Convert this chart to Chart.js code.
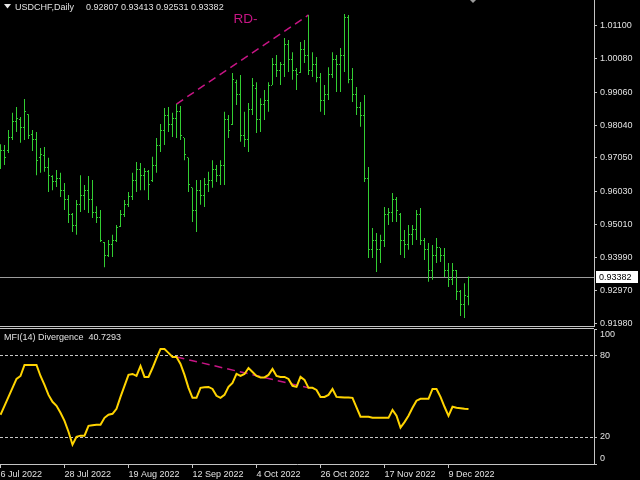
<!DOCTYPE html>
<html>
<head>
<meta charset="utf-8">
<script src="https://cdn.jsdelivr.net/npm/chart.js@4.4.1/dist/chart.umd.min.js"></script>
<style>
  html, body { margin: 0; padding: 0; background: #000; width: 640px; height: 480px; overflow: hidden; }
  canvas { position: absolute; left: 0; }
  #priceChart { top: 0; }
  #mfiChart { top: 320px; }
</style>
</head>
<body>
<canvas id="priceChart" width="640" height="332"></canvas>
<canvas id="mfiChart" width="640" height="160"></canvas>
<script>
// USDCHF daily bars, 6 Jul 2022 .. 16 Dec 2022 (one entry per bar)
const highs = [
  0.9747, 0.9744, 0.9790, 0.9843, 0.9861, 0.9830, 0.9885, 0.9839, 0.9790, 0.9784,
  0.9735, 0.9738, 0.9705, 0.9652, 0.9668, 0.9659, 0.9628, 0.9591, 0.9536, 0.9576,
  0.9652, 0.9622, 0.9649, 0.9637, 0.9557, 0.9545, 0.9447, 0.9453, 0.9469, 0.9499,
  0.9545, 0.9576, 0.9600, 0.9659, 0.9692, 0.9689, 0.9674, 0.9668, 0.9708, 0.9766,
  0.9809, 0.9858, 0.9861, 0.9843, 0.9870, 0.9864, 0.9766, 0.9705, 0.9613, 0.9637,
  0.9637, 0.9643, 0.9662, 0.9698, 0.9683, 0.9698, 0.9846, 0.9836, 0.9965, 0.9944,
  0.9959, 0.9846, 0.9873, 0.9950, 0.9937, 0.9888, 0.9913, 0.9937, 1.0011, 1.0020,
  0.9999, 1.0072, 1.0066, 1.0029, 0.9980, 1.0060, 1.0066, 1.0143, 1.0029, 1.0014,
  0.9965, 0.9928, 0.9983, 1.0029, 1.0020, 1.0042, 1.0146, 1.0143, 0.9980, 0.9922,
  0.9876, 0.9898, 0.9677, 0.9490, 0.9475, 0.9469, 0.9554, 0.9551, 0.9597, 0.9585,
  0.9536, 0.9484, 0.9499, 0.9499, 0.9545, 0.9551, 0.9459, 0.9444, 0.9438, 0.9459,
  0.9429, 0.9429, 0.9383, 0.9383, 0.9361, 0.9300, 0.9321, 0.93413
];
const lows = [
  0.9671, 0.9683, 0.9720, 0.9760, 0.9784, 0.9751, 0.9760, 0.9763, 0.9726, 0.9652,
  0.9659, 0.9662, 0.9600, 0.9606, 0.9616, 0.9585, 0.9545, 0.9505, 0.9478, 0.9469,
  0.9539, 0.9545, 0.9536, 0.9521, 0.9505, 0.9447, 0.9370, 0.9401, 0.9401, 0.9447,
  0.9493, 0.9524, 0.9554, 0.9576, 0.9600, 0.9606, 0.9606, 0.9576, 0.9631, 0.9659,
  0.9723, 0.9744, 0.9784, 0.9769, 0.9766, 0.9760, 0.9698, 0.9600, 0.9508, 0.9478,
  0.9561, 0.9554, 0.9600, 0.9613, 0.9631, 0.9622, 0.9622, 0.9766, 0.9806, 0.9867,
  0.9754, 0.9738, 0.9723, 0.9836, 0.9781, 0.9784, 0.9821, 0.9846, 0.9928, 0.9953,
  0.9928, 0.9953, 0.9968, 0.9944, 0.9913, 0.9965, 0.9996, 0.9959, 0.9953, 0.9937,
  0.9846, 0.9836, 0.9882, 0.9950, 0.9907, 0.9907, 0.9968, 0.9934, 0.9876, 0.9836,
  0.9800, 0.9631, 0.9398, 0.9398, 0.9355, 0.9383, 0.9432, 0.9499, 0.9508, 0.9508,
  0.9407, 0.9398, 0.9423, 0.9438, 0.9453, 0.9438, 0.9392, 0.9325, 0.9331, 0.9383,
  0.9386, 0.9340, 0.9309, 0.9315, 0.9269, 0.9220, 0.9214, 0.92531
];
const opens = [
  0.9683, 0.9729, 0.9729, 0.9766, 0.9815, 0.9821, 0.9797, 0.9839, 0.9778, 0.9760,
  0.9705, 0.9711, 0.9674, 0.9649, 0.9631, 0.9643, 0.9606, 0.9576, 0.9530, 0.9499,
  0.9561, 0.9591, 0.9606, 0.9576, 0.9539, 0.9521, 0.9447, 0.9407, 0.9438, 0.9453,
  0.9496, 0.9530, 0.9561, 0.9588, 0.9637, 0.9668, 0.9652, 0.9662, 0.9635, 0.9683,
  0.9744, 0.9790, 0.9836, 0.9806, 0.9827, 0.9846, 0.9766, 0.9705, 0.9613, 0.9545,
  0.9606, 0.9591, 0.9622, 0.9637, 0.9668, 0.9652, 0.9683, 0.9821, 0.9806, 0.9937,
  0.9898, 0.9775, 0.9760, 0.9852, 0.9919, 0.9821, 0.9867, 0.9882, 0.9928, 0.9990,
  0.9974, 0.9990, 1.0051, 1.0005, 0.9974, 0.9968, 1.0036, 1.0020, 0.9974, 0.9990,
  0.9950, 0.9882, 0.9898, 0.9959, 1.0005, 0.9990, 1.0020, 1.0134, 0.9944, 0.9898,
  0.9858, 0.9836, 0.9643, 0.9423, 0.9453, 0.9423, 0.9453, 0.9530, 0.9539, 0.9576,
  0.9530, 0.9453, 0.9438, 0.9469, 0.9484, 0.9530, 0.9453, 0.9423, 0.9361, 0.9407,
  0.9429, 0.9407, 0.9361, 0.9331, 0.9361, 0.9294, 0.9254, 0.92807
];
const closes = [
  0.9729, 0.9705, 0.9766, 0.9815, 0.9827, 0.9797, 0.9846, 0.9775, 0.9760, 0.9698,
  0.9714, 0.9674, 0.9652, 0.9631, 0.9643, 0.9606, 0.9576, 0.9530, 0.9499, 0.9561,
  0.9591, 0.9606, 0.9576, 0.9539, 0.9521, 0.9453, 0.9407, 0.9438, 0.9453, 0.9490,
  0.9530, 0.9561, 0.9588, 0.9637, 0.9668, 0.9652, 0.9662, 0.9622, 0.9683, 0.9744,
  0.9790, 0.9836, 0.9806, 0.9827, 0.9846, 0.9775, 0.9714, 0.9622, 0.9545, 0.9606,
  0.9591, 0.9622, 0.9637, 0.9668, 0.9652, 0.9683, 0.9821, 0.9790, 0.9944, 0.9898,
  0.9775, 0.9760, 0.9852, 0.9928, 0.9821, 0.9867, 0.9882, 0.9928, 0.9990, 0.9974,
  0.9990, 1.0051, 1.0005, 0.9974, 0.9959, 1.0036, 1.0020, 0.9974, 0.9990, 0.9950,
  0.9882, 0.9898, 0.9959, 1.0005, 0.9990, 1.0020, 1.0134, 0.9944, 0.9898, 0.9858,
  0.9836, 0.9643, 0.9423, 0.9453, 0.9423, 0.9453, 0.9530, 0.9539, 0.9576, 0.9545,
  0.9453, 0.9438, 0.9469, 0.9484, 0.9530, 0.9453, 0.9423, 0.9361, 0.9407, 0.9429,
  0.9407, 0.9361, 0.9331, 0.9361, 0.9294, 0.9254, 0.9282, 0.93382
];
// MFI(14) per bar
const mfi = [
  36.5, 43.1, 49.7, 56.4, 63.0, 65.2, 73.4, 73.4, 73.4, 73.4,
  65.2, 58.6, 51.2, 46.1, 43.1, 38.0, 32.0, 23.9, 14.3, 20.2,
  21.0, 21.0, 28.3, 28.7, 29.1, 29.1, 34.2, 36.5, 37.2, 40.9,
  49.7, 57.9, 66.0, 66.7, 65.2, 72.6, 64.5, 64.5, 71.1, 78.5,
  85.2, 85.2, 82.3, 79.3, 79.3, 74.1, 66.0, 56.4, 49.0, 49.0,
  56.4, 56.8, 57.1, 55.6, 50.5, 49.0, 51.2, 57.1, 60.1, 66.7,
  65.2, 66.7, 71.1, 68.2, 65.2, 64.1, 64.1, 66.0, 70.4, 65.2,
  64.5, 64.5, 63.0, 57.9, 57.1, 64.5, 62.3, 56.4, 56.4, 54.9,
  49.7, 49.7, 51.2, 55.6, 49.7, 49.5, 49.3, 49.2, 49.0, 42.0,
  35.0, 35.0, 35.0, 34.2, 34.2, 34.2, 34.2, 34.2, 40.1, 35.7,
  26.9, 31.0, 35.7, 41.6, 46.9, 48.3, 48.3, 48.3, 55.6, 55.6,
  49.7, 42.4, 35.7, 42.4, 41.6, 41.3, 40.9, 40.7293
];

const dateLabels = ['6 Jul 2022', '28 Jul 2022', '19 Aug 2022', '12 Sep 2022', '4 Oct 2022', '26 Oct 2022', '17 Nov 2022', '9 Dec 2022'];
const dateBars = [0, 16, 32, 48, 64, 80, 96, 112];
const priceTicks = [1.011, 1.0008, 0.9906, 0.9804, 0.9705, 0.9603, 0.9501, 0.9399, 0.9297, 0.9198];
const mfiTicks = [0, 20, 80, 100];
const mfiLevels = [20, 80];
const rdBars = [44, 77];   // bearish divergence: price higher high, MFI lower high

const symbol = 'USDCHF,Daily';
const mfiName = 'MFI(14) Divergence';

const FONT = 'Liberation Sans';
const FSIZE = 9;
const axisColor = '#c4c4c4';
const textColor = '#e0e0e0';
const barColor = '#32cd32';
const mfiColor = '#ffd400';
const rdColor = '#c71585';
const xMin = -0.125, xMax = 148.375;   // 4px per bar, room on the right

const last = closes.length - 1;
const idx = closes.map((_, i) => i);

// open / close nubs on the OHLC bars
const ohlcTicks = {
  id: 'ohlcTicks',
  afterDatasetsDraw(chart) {
    const { ctx, scales: { x, y } } = chart;
    ctx.save();
    ctx.fillStyle = barColor;
    idx.forEach(i => {
      const px = Math.round(x.getPixelForValue(i) - 0.5);
      ctx.fillRect(px - 1, Math.floor(y.getPixelForValue(opens[i])), 1, 1);
      ctx.fillRect(px + 1, Math.floor(y.getPixelForValue(closes[i])), 1, 1);
    });
    ctx.restore();
  }
};

const priceDecor = {
  id: 'priceDecor',
  beforeDatasetsDraw(chart) {
    const { ctx, chartArea: a, scales: { y } } = chart;
    const py = Math.floor(y.getPixelForValue(closes[last])) + 0.5;
    ctx.save();
    ctx.strokeStyle = '#9c9c9c';
    ctx.lineWidth = 1;
    ctx.beginPath();
    ctx.moveTo(a.left, py);
    ctx.lineTo(a.right, py);
    ctx.stroke();
    ctx.restore();
  },
  afterDraw(chart) {
    const { ctx, chartArea: a, scales: { x, y } } = chart;
    ctx.save();
    // window bottom edge
    ctx.strokeStyle = axisColor;
    ctx.lineWidth = 1;
    ctx.beginPath();
    ctx.moveTo(0, a.bottom + 0.5);
    ctx.lineTo(a.right, a.bottom + 0.5);
    ctx.stroke();

    // header
    ctx.fillStyle = '#e8e8e8';
    ctx.beginPath();
    ctx.moveTo(4, 4); ctx.lineTo(11, 4); ctx.lineTo(7.5, 8.5); ctx.closePath();
    ctx.fill();
    ctx.font = FSIZE + 'px "' + FONT + '"';
    ctx.fillStyle = textColor;
    ctx.textBaseline = 'alphabetic';
    ctx.textAlign = 'left';
    ctx.fillText(symbol, 15, 10);
    const ohlc = [opens[last], highs[last], lows[last], closes[last]].map(v => v.toFixed(5)).join(' ');
    ctx.fillText(ohlc, 86, 10);

    // divergence label
    ctx.font = '13.5px "Liberation Sans"';
    ctx.fillStyle = rdColor;
    ctx.fillText('RD-', x.getPixelForValue(rdBars[1]) - 75, y.getPixelForValue(highs[rdBars[1]]) + 8);

    // bid price box
    const py = Math.floor(y.getPixelForValue(closes[last]));
    ctx.fillStyle = '#ffffff';
    ctx.fillRect(a.right + 2, py - 6, 42, 12);
    ctx.fillStyle = '#000000';
    ctx.font = FSIZE + 'px "' + FONT + '"';
    ctx.textBaseline = 'middle';
    ctx.fillText(closes[last].toFixed(5), a.right + 5, py + 0.5);

    // chart shift marker
    ctx.fillStyle = '#9c9c9c';
    ctx.beginPath();
    ctx.moveTo(470, 0); ctx.lineTo(476, 0); ctx.lineTo(473, 3); ctx.closePath();
    ctx.fill();
    ctx.restore();
  }
};

new Chart(document.getElementById('priceChart'), {
  type: 'bar',
  data: {
    datasets: [
      {
        type: 'bar',
        data: idx.map(i => ({ x: i, y: [lows[i], highs[i]] })),
        backgroundColor: barColor,
        borderWidth: 0,
        barThickness: 1,
        inflateAmount: 0
      },
      {
        type: 'line',
        data: rdBars.map(i => ({ x: i, y: highs[i] })),
        borderColor: rdColor,
        borderWidth: 1.5,
        borderDash: [8, 5],
        pointRadius: 0
      }
    ]
  },
  options: {
    responsive: false,
    animation: false,
    devicePixelRatio: 1,
    events: [],
    layout: { padding: { top: 0, bottom: 6, left: 0, right: 0 } },
    plugins: { legend: { display: false }, tooltip: { enabled: false } },
    scales: {
      x: { type: 'linear', display: false, offset: false, min: xMin, max: xMax },
      y: {
        position: 'right',
        min: 0.91896,
        max: 1.01888,
        afterBuildTicks: s => { s.ticks = priceTicks.map(v => ({ value: v })); },
        afterFit: s => { s.width = 46; s.paddingTop = 0; s.paddingBottom = 0; },
        ticks: {
          autoSkip: false,
          padding: 3,
          color: textColor,
          font: { family: FONT, size: FSIZE },
          callback: v => Number(v).toFixed(5)
        },
        grid: { drawOnChartArea: false, tickLength: 3, color: axisColor },
        border: { display: true, color: axisColor }
      }
    }
  },
  plugins: [priceDecor, ohlcTicks]
});

const mfiDecor = {
  id: 'mfiDecor',
  beforeDatasetsDraw(chart) {
    const { ctx, chartArea: a, scales: { y } } = chart;
    ctx.save();
    ctx.strokeStyle = '#c8c8c8';
    ctx.lineWidth = 1;
    ctx.setLineDash([3, 2]);
    mfiLevels.forEach(v => {
      const py = Math.floor(y.getPixelForValue(v)) + 0.5;
      ctx.beginPath();
      ctx.moveTo(a.left, py);
      ctx.lineTo(a.right, py);
      ctx.stroke();
    });
    ctx.restore();
  },
  afterDraw(chart) {
    const { ctx, chartArea: a } = chart;
    ctx.save();
    ctx.strokeStyle = axisColor;
    ctx.lineWidth = 1;
    ctx.beginPath();
    ctx.moveTo(0, a.top - 0.5);
    ctx.lineTo(a.right, a.top - 0.5);
    ctx.stroke();
    ctx.font = FSIZE + 'px "' + FONT + '"';
    ctx.fillStyle = textColor;
    ctx.textBaseline = 'alphabetic';
    ctx.fillText(mfiName + '  ' + mfi[last].toFixed(4), 4, 20);
    ctx.restore();
  }
};

new Chart(document.getElementById('mfiChart'), {
  type: 'line',
  data: {
    datasets: [
      {
        data: idx.map(i => ({ x: i, y: mfi[i] })),
        borderColor: mfiColor,
        borderWidth: 2,
        pointRadius: 0,
        tension: 0
      },
      {
        data: rdBars.map(i => ({ x: i, y: mfi[i] })),
        borderColor: rdColor,
        borderWidth: 1.5,
        borderDash: [8, 5],
        pointRadius: 0
      }
    ]
  },
  options: {
    responsive: false,
    animation: false,
    devicePixelRatio: 1,
    events: [],
    layout: { padding: { top: 9, bottom: 0, left: 0, right: 0 } },
    plugins: { legend: { display: false }, tooltip: { enabled: false } },
    scales: {
      x: {
        type: 'linear',
        offset: false,
        min: xMin,
        max: xMax,
        afterBuildTicks: s => { s.ticks = dateBars.map(v => ({ value: v })); },
        afterFit: s => { s.height = 16; s.paddingLeft = 0; s.paddingRight = 0; },
        ticks: {
          autoSkip: false,
          maxRotation: 0,
          align: 'start',
          padding: 1,
          color: textColor,
          font: { family: FONT, size: FSIZE },
          callback: (v, i) => dateLabels[i]
        },
        grid: { drawOnChartArea: false, tickLength: 4, color: axisColor },
        border: { display: true, color: axisColor }
      },
      y: {
        position: 'right',
        min: 0,
        max: 100,
        afterBuildTicks: s => { s.ticks = mfiTicks.map(v => ({ value: v })); },
        afterFit: s => { s.width = 46; s.paddingTop = 0; s.paddingBottom = 0; },
        ticks: {
          autoSkip: false,
          padding: 3,
          color: textColor,
          font: { family: FONT, size: FSIZE },
          callback: v => v === 100 ? ['', '100'] : v === 0 ? ['0', ''] : String(v)
        },
        grid: { drawOnChartArea: false, tickLength: 3, color: axisColor },
        border: { display: true, color: axisColor }
      }
    }
  },
  plugins: [mfiDecor]
});
</script>
</body>
</html>
